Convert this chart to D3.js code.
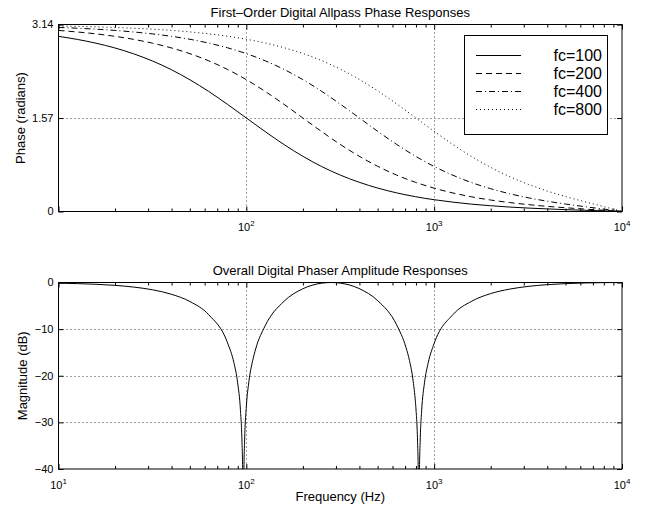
<!DOCTYPE html>
<html>
<head>
<meta charset="utf-8">
<script src="https://cdn.jsdelivr.net/npm/d3@7"></script>
<style>
  body { margin: 0; background: #fff; }
  svg { display: block; font-family: "Liberation Sans", Arial, Helvetica, sans-serif; }
  .grid { stroke: #444; stroke-width: 1; stroke-dasharray: 1,3; fill: none; }
  .tick line { stroke: #000; }
  .curve { fill: none; stroke: #000; stroke-width: 1; }
</style>
</head>
<body>
<svg width="645" height="510"></svg>
<script>
var width = 645,
    height = 510;

// top panel: frequencies (Hz) and phase (radians)
var freqTop = [10, 12.59, 15.85, 19.95, 25.12, 31.62, 39.81, 50.12, 63.10, 79.43,
  100, 125.9, 158.5, 199.5, 251.2, 316.2, 398.1, 501.2, 631.0, 794.3,
  1000, 1259, 1585, 1995, 2512, 3162, 3981, 5012, 6310, 7943, 10000];

var phase100 = [2.942, 2.891, 2.827, 2.748, 2.649, 2.529, 2.384, 2.212, 2.016, 1.799,
  1.571, 1.343, 1.126, 0.929, 0.757, 0.612, 0.492, 0.393, 0.313, 0.249,
  0.198, 0.157, 0.123, 0.097, 0.075, 0.058, 0.044, 0.031, 0.021, 0.011, 0];
var phase200 = [3.042, 3.016, 2.984, 2.943, 2.892, 2.828, 2.749, 2.651, 2.531, 2.386,
  2.215, 2.018, 1.802, 1.573, 1.345, 1.127, 0.930, 0.758, 0.612, 0.491,
  0.392, 0.311, 0.246, 0.193, 0.151, 0.116, 0.087, 0.063, 0.041, 0.021, 0];
var phase400 = [3.092, 3.079, 3.063, 3.042, 3.016, 2.984, 2.944, 2.893, 2.829, 2.750,
  2.652, 2.532, 2.388, 2.217, 2.021, 1.804, 1.576, 1.346, 1.128, 0.930,
  0.756, 0.609, 0.485, 0.384, 0.300, 0.231, 0.174, 0.125, 0.082, 0.042, 0];
var phase800 = [3.117, 3.110, 3.102, 3.092, 3.079, 3.063, 3.043, 3.017, 2.985, 2.945,
  2.894, 2.831, 2.752, 2.655, 2.536, 2.392, 2.221, 2.025, 1.808, 1.578,
  1.347, 1.125, 0.922, 0.743, 0.589, 0.458, 0.346, 0.250, 0.165, 0.085, 0];

var legendLabels = ["fc=100", "fc=200", "fc=400", "fc=800"];

// bottom panel: frequencies (Hz) and magnitude (dB)
var freqMag = [10, 12.59, 15.85, 19.95, 25.12, 31.62, 39.81, 50.12, 63.10, 79.43,
  85.86, 89.90, 93.06, 94.79, 95.67, 96.11, 96.56, 97.00, 97.90, 100,
  103.2, 108.1, 112.2, 125.9, 158.5, 199.5, 251.2, 283.1, 316.2, 398.1,
  501.2, 631.0, 707.9, 738.8, 773.6, 794.3, 800.8, 815.6, 823.2, 827.0,
  830.8, 834.6, 842.4, 858.0, 888.2, 930.0, 1000, 1259, 1585, 1995,
  2512, 3162, 3981, 5012, 6310, 7943, 10000];
var magDb = [-0.15, -0.24, -0.38, -0.61, -0.98, -1.56, -2.51, -4.09, -6.92, -12.94,
  -17.20, -21.52, -27.47, -34.04, -41.39, -50.9, -50.9, -41.36, -33.98, -26.64,
  -21.24, -16.73, -14.21, -9.29, -4.05, -1.36, -0.15, 0, -0.13, -1.29,
  -3.92, -9.07, -13.94, -16.73, -21.24, -25.48, -27.32, -33.97, -41.35, -50.9,
  -50.9, -41.38, -34.04, -27.46, -21.51, -17.19, -13.05, -6.88, -4.01, -2.39,
  -1.43, -0.84, -0.47, -0.24, -0.10, -0.03, 0];

var topYTicks = [0, 1.57, 3.14],
    topXLabels = [100, 1000, 10000],
    magYTicks = [-40, -30, -20, -10, 0],
    magXLabels = [10, 100, 1000, 10000],
    minorTicks = [];
[10, 100, 1000].forEach(function(d) {
  for (var m = 2; m < 10; m++) minorTicks.push(d * m);
});

var left = 58.5, right = 622;
var topPanel = { y0: 24.5, y1: 211.5 },
    botPanel = { y0: 282.5, y1: 469 };

var x = d3.scaleLog().domain([10, 10000]).range([left, right]);
var yTop = d3.scaleLinear().domain([0, Math.PI]).range([topPanel.y1, topPanel.y0]);
var yMag = d3.scaleLinear().domain([-40, 0]).range([botPanel.y1, botPanel.y0]);

var svg = d3.select("svg");
svg.append("rect").attr("width", width).attr("height", height).attr("fill", "#fff");

var defs = svg.append("defs");
[["clipTop", topPanel], ["clipBot", botPanel]].forEach(function(c) {
  defs.append("clipPath").attr("id", c[0]).append("rect")
      .attr("x", left).attr("y", c[1].y0)
      .attr("width", right - left).attr("height", c[1].y1 - c[1].y0);
});

function drawFrame(panel, y, yTicks, yFmt, xLabels, title) {
  var g = svg.append("g");

  // dotted grid
  g.selectAll(".gx").data([100, 1000]).enter().append("line")
      .attr("class", "grid")
      .attr("x1", function(d) { return Math.round(x(d)) + 0.5; })
      .attr("x2", function(d) { return Math.round(x(d)) + 0.5; })
      .attr("y1", panel.y0).attr("y2", panel.y1);
  g.selectAll(".gy").data(yTicks.filter(function(d) {
        return y(d) > panel.y0 + 2 && y(d) < panel.y1 - 2; }))
    .enter().append("line")
      .attr("class", "grid")
      .attr("x1", left).attr("x2", right)
      .attr("y1", function(d) { return Math.round(y(d)) + 0.5; })
      .attr("y2", function(d) { return Math.round(y(d)) + 0.5; });

  // inward ticks on all four sides
  var major = [10, 100, 1000, 10000];
  g.append("g").attr("transform", "translate(0," + panel.y1 + ")")
      .call(d3.axisBottom(x).tickValues(major).tickSize(-5).tickSizeOuter(0).tickFormat(""));
  g.append("g").attr("transform", "translate(0," + panel.y1 + ")")
      .call(d3.axisBottom(x).tickValues(minorTicks).tickSize(-3).tickSizeOuter(0).tickFormat(""));
  g.append("g").attr("transform", "translate(0," + panel.y0 + ")")
      .call(d3.axisTop(x).tickValues(major).tickSize(-5).tickSizeOuter(0).tickFormat(""));
  g.append("g").attr("transform", "translate(0," + panel.y0 + ")")
      .call(d3.axisTop(x).tickValues(minorTicks).tickSize(-3).tickSizeOuter(0).tickFormat(""));
  g.append("g").attr("transform", "translate(" + left + ",0)")
      .call(d3.axisLeft(y).tickValues(yTicks).tickSize(-5).tickSizeOuter(0).tickFormat(""));
  g.append("g").attr("transform", "translate(" + right + ",0)")
      .call(d3.axisRight(y).tickValues(yTicks).tickSize(-5).tickSizeOuter(0).tickFormat(""));
  g.selectAll(".domain").remove();

  // y tick labels
  g.selectAll(".ylab").data(yTicks).enter().append("text")
      .attr("x", left - 5)
      .attr("y", function(d) { return y(d); })
      .attr("dy", "0.35em")
      .attr("text-anchor", "end")
      .attr("font-size", 11)
      .text(yFmt);

  // x tick labels 10^n
  var xl = g.selectAll(".xlab").data(xLabels).enter().append("text")
      .attr("x", function(d) { return x(d); })
      .attr("y", panel.y1 + 19.5)
      .attr("text-anchor", "middle")
      .attr("font-size", 11);
  xl.append("tspan").text("10");
  xl.append("tspan").attr("dy", -5).attr("font-size", 8)
      .text(function(d) { return Math.round(Math.log10(d)); });

  g.append("text")
      .attr("x", (left + right) / 2).attr("y", panel.y0 - 7.5)
      .attr("text-anchor", "middle").attr("font-size", 13)
      .text(title);
  return g;
}

drawFrame(topPanel, yTop, topYTicks, function(d) { return d === 0 ? "0" : d.toFixed(2); },
    topXLabels, "First\u2013Order Digital Allpass Phase Responses");
drawFrame(botPanel, yMag, magYTicks, function(d) { return d < 0 ? "\u2212" + (-d) : "0"; },
    magXLabels, "Overall Digital Phaser Amplitude Responses");

// curves
var styles = [null, "6,4", "6,3,1,3", "1,3"];
var series = [phase100, phase200, phase400, phase800];

var lineTop = d3.line()
    .x(function(d) { return x(d[0]); })
    .y(function(d) { return yTop(d[1]); })
    .curve(d3.curveMonotoneX);

var curvesTop = svg.append("g").attr("clip-path", "url(#clipTop)");
series.forEach(function(s, i) {
  curvesTop.append("path")
      .datum(d3.zip(freqTop, s))
      .attr("class", "curve")
      .attr("stroke-dasharray", styles[i])
      .attr("d", lineTop);
});

var lineMag = d3.line()
    .x(function(d) { return x(d[0]); })
    .y(function(d) { return yMag(d[1]); })
    .curve(d3.curveMonotoneX);

svg.append("g").attr("clip-path", "url(#clipBot)")
  .append("path")
    .datum(d3.zip(freqMag, magDb))
    .attr("class", "curve")
    .attr("d", lineMag);

// legend
var leg = svg.append("g");
leg.append("rect")
    .attr("x", 464.5).attr("y", 35.5).attr("width", 143).attr("height", 99)
    .attr("fill", "#fff").attr("stroke", "#000");
legendLabels.forEach(function(label, i) {
  var ly = 55.5 + i * 18;
  leg.append("line")
      .attr("x1", 476).attr("x2", 521).attr("y1", ly).attr("y2", ly)
      .attr("class", "curve")
      .attr("stroke-dasharray", styles[i]);
  leg.append("text")
      .attr("x", 602).attr("y", ly).attr("dy", "0.36em")
      .attr("text-anchor", "end").attr("font-size", 16)
      .text(label);
});

// box outlines
[topPanel, botPanel].forEach(function(p) {
  svg.append("rect")
      .attr("x", left).attr("y", p.y0)
      .attr("width", right - left).attr("height", p.y1 - p.y0)
      .attr("fill", "none").attr("stroke", "#000");
});

// axis titles
svg.append("text")
    .attr("transform", "translate(25," + (topPanel.y0 + topPanel.y1) / 2 + ") rotate(-90)")
    .attr("text-anchor", "middle").attr("font-size", 13)
    .text("Phase (radians)");
svg.append("text")
    .attr("transform", "translate(27," + (botPanel.y0 + botPanel.y1) / 2 + ") rotate(-90)")
    .attr("text-anchor", "middle").attr("font-size", 13)
    .text("Magnitude (dB)");
svg.append("text")
    .attr("x", (left + right) / 2).attr("y", 501)
    .attr("text-anchor", "middle").attr("font-size", 13)
    .text("Frequency (Hz)");
</script>
</body>
</html>
